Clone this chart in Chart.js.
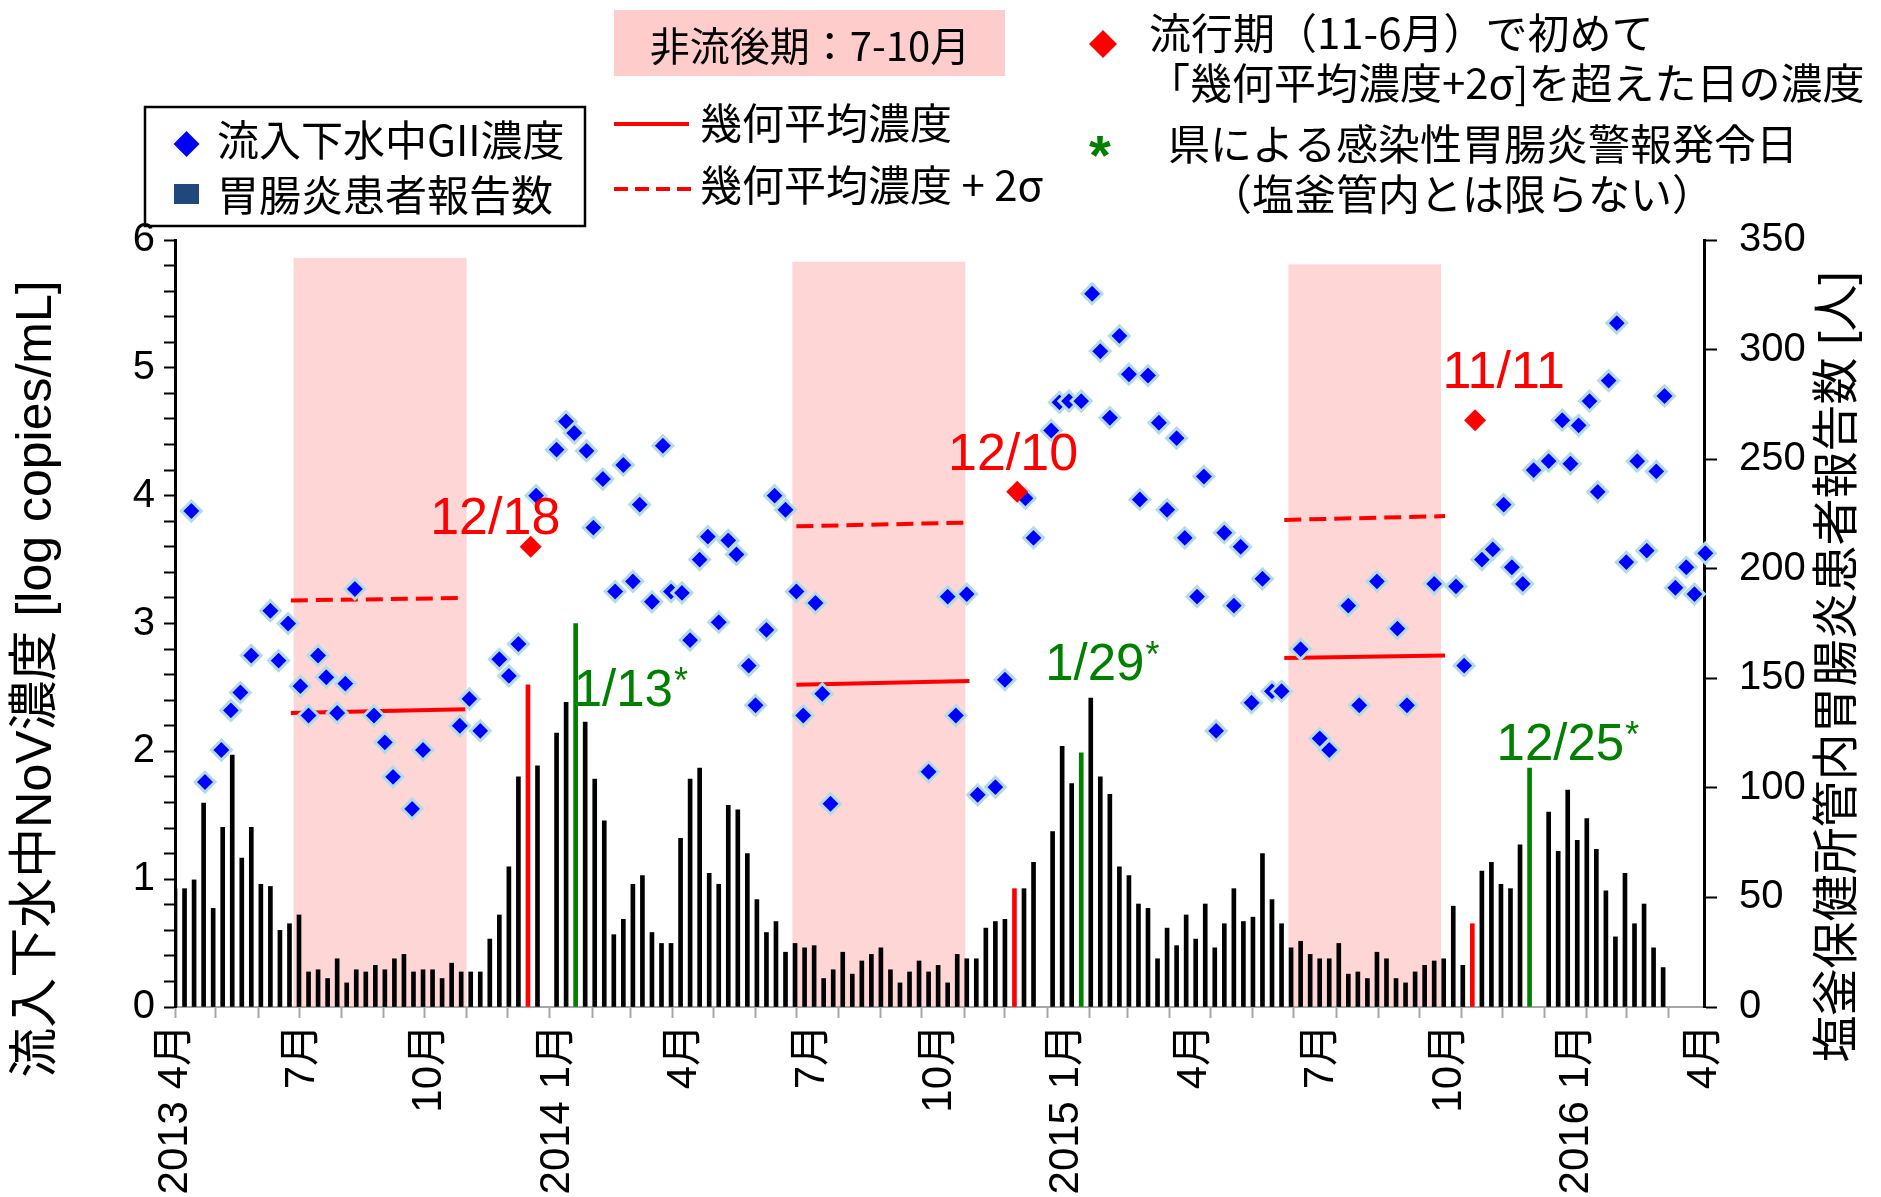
<!DOCTYPE html>
<html><head><meta charset="utf-8">
<script src="https://cdn.jsdelivr.net/npm/chart.js@4.4.1/dist/chart.umd.min.js"></script>
<style>html,body{margin:0;padding:0;background:#fff;}canvas{display:block;}</style>
</head><body>
<canvas id="c" width="1881" height="1197"></canvas>
<script>
// ===== DATA =====
// x values are days counted from 2013-04-01; bars are weekly (week i starts on day 7*i)
const startDate = '2013-04-01';
const weeklyPatients = [
  54, 54, 58, 93, 45, 82, 115, 68, 82, 56,
  55, 35, 38, 42, 16, 17, 13, 22, 11, 17,
  16, 19, 17, 22, 24, 16, 17, 17, 13, 20,
  16, 16, 16, 31, 42, 64, 105, 147, 110, null,
  125, 139, 175, 130, 104, 85, 33, 40, 56, 60,
  34, 29, 29, 77, 104, 109, 61, 56, 92, 90,
  70, 49, 34, 39, 25, 29, 27, 28, 13, 17,
  25, 15, 21, 24, 27, 17, 11, 16, 21, 16,
  19, 11, 24, 22, 22, 36, 39, 40, 54, 54,
  66, null, 80, 119, 102, 116, 141, 105, 97, 64,
  60, 47, 45, 22, 36, 28, 42, 31, 47, 27,
  38, 54, 39, 41, 70, 49, 38, 27, 30, 24,
  22, 22, 29, 15, 16, 13, 25, 22, 13, 11,
  16, 19, 21, 22, 46, 19, 38, 62, 66, 56,
  54, 74, 109, null, 89, 71, 99, 76, 86, 72,
  53, 32, 61, 38, 47, 27, 18
];
const redWeeks = [37, 88, 136];
const greenWeeks = [42, 95, 142];

const gIIDay = [
  12, 22, 34, 41, 48, 56, 70, 76, 83, 92, 98, 105, 111, 119, 125, 132, 146, 154, 160, 174,
  182, 209, 216, 224, 238, 245, 252, 265,
  280, 287, 293, 302, 307, 314, 323, 329, 336, 341, 350, 358, 364, 372, 378, 385, 391, 399,
  406, 412, 421, 426, 434, 440, 448, 456, 461, 470, 475, 481,
  553, 567, 573, 581, 589, 602, 609, 624, 630, 643, 649, 656, 665, 673, 679, 686, 693, 700,
  708, 714, 722, 728, 735, 741, 750, 755, 764, 770, 777, 782, 790, 798, 805, 812, 826,
  840, 847, 861, 869, 882, 897, 904, 924, 940, 946, 959, 967, 975, 981, 989, 997, 1008, 1018,
  1024, 1030, 1038, 1044, 1052, 1058, 1065, 1073, 1080, 1087, 1093, 1101, 1109, 1115, 1123
];
const gIIConc = [
  3.88, 1.76, 2.01, 2.32, 2.46, 2.75, 3.10, 2.71, 3.00, 2.51, 2.28, 2.75, 2.58, 2.30, 2.53, 3.27, 2.28, 2.07, 1.80, 1.55,
  2.01, 2.20, 2.41, 2.16, 2.72, 2.59, 2.84, 4.00,
  4.36, 4.58, 4.49, 4.35, 3.75, 4.13, 3.25, 4.24, 3.33, 3.93, 3.17, 4.39, 3.25, 3.24, 2.87, 3.50, 3.68, 3.01,
  3.65, 3.54, 2.67, 2.36, 2.95, 4.00, 3.89, 3.25, 2.28, 3.16, 2.45, 1.59,
  1.84, 3.21, 2.28, 3.23, 1.66, 1.72, 2.56, 3.98, 3.67, 4.51, 4.73, 4.74, 4.74, 5.58, 5.13, 4.61, 5.25, 4.95,
  3.97, 4.94, 4.57, 3.89, 4.45, 3.67, 3.21, 4.15, 2.16, 3.71, 3.14, 3.60, 2.38, 3.35, 2.47, 2.47, 2.80,
  2.10, 2.01, 3.14, 2.36, 3.33, 2.96, 2.36, 3.31, 3.29, 2.67, 3.50, 3.58, 3.93, 3.44, 3.31, 4.20, 4.27, 4.59,
  4.25, 4.55, 4.74, 4.03, 4.90, 5.35, 3.48, 4.27, 3.57, 4.19, 4.78, 3.28, 3.44, 3.23, 3.55
];

const firstExceedDay = [261, 618, 954];
const firstExceedConc = [3.60, 4.03, 4.59];
const firstExceedLabels = ['12/18', '12/10', '11/11'];
const alertLabels = ['1/13', '1/29', '12/25'];

const offSeasonStart = [87, 453, 817];
const offSeasonEnd = [214, 580, 929];
const geoMeanStart = [85, 456, 814];
const geoMeanEnd = [213, 583, 932];
const geoMeanFrom = [2.30, 2.52, 2.73];
const geoMeanTo = [2.33, 2.55, 2.75];
const plus2SigmaFrom = [3.18, 3.76, 3.81];
const plus2SigmaTo = [3.20, 3.79, 3.84];

const quarterLabels = ['2013 4月', '7月', '10月', '2014 1月', '4月', '7月', '10月',
  '2015 1月', '4月', '7月', '10月', '2016 1月', '4月'];

// ===== LAYOUT (data units) =====
const shadeTop = [5.86, 5.83, 5.81];
const redLabelPos = [{x: 235, y: 3.70}, {x: 615, y: 4.20}, {x: 975, y: 4.84}];
const greenLabelPos = [{x: 329, y: 2.357}, {x: 675, y: 2.555}, {x: 1016.6, y: 1.93}];

// ===== BUILD =====
const DAY = 86400000;
const t0 = Date.UTC(2013, 3, 1);
const monthTicks = [];
for (let m = 0; m <= 36; m++) monthTicks.push(Math.round((Date.UTC(2013, 3 + m, 1) - t0) / DAY));

const FONT = '"Liberation Sans", "Noto Sans CJK JP", sans-serif';
const JFONT = '"Noto Sans CJK JP", sans-serif';
Chart.defaults.font.family = FONT;
Chart.defaults.color = '#000';

const datasets = [];
datasets.push({
  type: 'bar', label: '胃腸炎患者報告数', xAxisID: 'x', yAxisID: 'y2', order: 10,
  data: weeklyPatients.map((v, i) => ({x: i * 7, y: v})),
  backgroundColor: weeklyPatients.map((v, i) => redWeeks.includes(i) ? '#FF0000' : greenWeeks.includes(i) ? '#008000' : '#000000'),
  barThickness: 4, borderWidth: 0
});
for (let i = 0; i < geoMeanStart.length; i++) {
  datasets.push({
    type: 'line', xAxisID: 'x', yAxisID: 'y', order: 5,
    data: [{x: geoMeanStart[i], y: geoMeanFrom[i]}, {x: geoMeanEnd[i], y: geoMeanTo[i]}],
    borderColor: '#FF0000', borderWidth: 4, pointRadius: 0, fill: false, showLine: true
  });
  datasets.push({
    type: 'line', xAxisID: 'x', yAxisID: 'y', order: 5,
    data: [{x: geoMeanStart[i], y: plus2SigmaFrom[i]}, {x: geoMeanEnd[i], y: plus2SigmaTo[i]}],
    borderColor: '#FF0000', borderWidth: 4, borderDash: [17, 8], pointRadius: 0, fill: false, showLine: true
  });
}
datasets.push({
  type: 'scatter', label: '流入下水中GII濃度', xAxisID: 'x', yAxisID: 'y', order: 2, clip: false,
  data: gIIDay.map((d, i) => ({x: d, y: gIIConc[i]})),
  pointStyle: 'rectRot', pointRadius: 10, backgroundColor: '#0000FF',
  borderColor: '#B3DCE8', borderWidth: 3, showLine: false
});
datasets.push({
  type: 'scatter', xAxisID: 'x', yAxisID: 'y', order: 1, clip: false,
  data: firstExceedDay.map((d, i) => ({x: d, y: firstExceedConc[i]})),
  pointStyle: 'rectRot', pointRadius: 11, backgroundColor: '#FF0000', borderWidth: 0, showLine: false
});

function diamond(ctx, x, y, r, color) {
  ctx.beginPath();
  ctx.moveTo(x - r, y); ctx.lineTo(x, y - r); ctx.lineTo(x + r, y); ctx.lineTo(x, y + r);
  ctx.closePath(); ctx.fillStyle = color; ctx.fill();
}
function rotText(ctx, text, cx, cy, font) {
  ctx.save(); ctx.translate(cx, cy); ctx.rotate(-Math.PI / 2);
  ctx.font = font; ctx.textAlign = 'center'; ctx.textBaseline = 'middle'; ctx.fillStyle = '#000';
  ctx.fillText(text, 0, 0); ctx.restore();
}

const overlay = {
  id: 'overlay',
  beforeDatasetsDraw(chart) {
    const {ctx, scales: {x, y}} = chart;
    ctx.save();
    ctx.fillStyle = '#FFD6D6';
    offSeasonStart.forEach((s, i) => {
      const x0 = x.getPixelForValue(s), x1 = x.getPixelForValue(offSeasonEnd[i]);
      const yt = y.getPixelForValue(shadeTop[i]), yb = y.getPixelForValue(0) - 1;
      ctx.fillRect(x0, yt, x1 - x0, yb - yt);
    });
    ctx.restore();
  },
  afterDatasetsDraw(chart) {
    const {ctx, scales: {x, y}} = chart;
    ctx.save();
    ctx.textBaseline = 'alphabetic';
    ctx.font = '52px ' + FONT; ctx.fillStyle = '#FF0000'; ctx.textAlign = 'center';
    firstExceedLabels.forEach((t, i) => {
      ctx.fillText(t, x.getPixelForValue(redLabelPos[i].x), y.getPixelForValue(redLabelPos[i].y));
    });
    ctx.fillStyle = '#008000';
    alertLabels.forEach((t, i) => {
      const px = x.getPixelForValue(greenLabelPos[i].x), py = y.getPixelForValue(greenLabelPos[i].y);
      ctx.font = '51px ' + FONT; ctx.textAlign = 'center';
      ctx.fillText(t, px, py);
      const w = ctx.measureText(t).width;
      ctx.font = '36px ' + FONT; ctx.textAlign = 'left';
      ctx.fillText('*', px + w / 2 + 1, py - 13);
    });
    ctx.restore();
  },
  afterDraw(chart) {
    const ctx = chart.ctx;
    ctx.save();
    // off-season box
    ctx.fillStyle = '#FFCCCC'; ctx.fillRect(614, 10, 391, 66);
    ctx.fillStyle = '#000'; ctx.font = '40px ' + JFONT; ctx.textAlign = 'center'; ctx.textBaseline = 'middle';
    ctx.fillText('非流後期：7-10月', 810, 46);
    // legend box
    ctx.lineWidth = 2.5; ctx.strokeStyle = '#000'; ctx.strokeRect(145, 107, 440, 119);
    diamond(ctx, 186.5, 144, 13, '#0000FF');
    ctx.fillStyle = '#1F497D'; ctx.fillRect(174, 184, 25, 20);
    ctx.fillStyle = '#000'; ctx.font = '42px ' + JFONT; ctx.textAlign = 'left';
    ctx.fillText('流入下水中GII濃度', 217, 140);
    ctx.fillText('胃腸炎患者報告数', 217, 195);
    // mean lines legend
    ctx.strokeStyle = '#FF0000'; ctx.lineWidth = 4;
    ctx.beginPath(); ctx.moveTo(614, 124); ctx.lineTo(689, 124); ctx.stroke();
    ctx.setLineDash([14, 7]);
    ctx.beginPath(); ctx.moveTo(614, 189); ctx.lineTo(692, 189); ctx.stroke();
    ctx.setLineDash([]);
    ctx.fillStyle = '#000';
    ctx.fillText('幾何平均濃度', 700, 123);
    ctx.fillText('幾何平均濃度 + 2σ', 700, 185);
    // red diamond note
    diamond(ctx, 1103, 44, 14, '#FF0000');
    ctx.fillStyle = '#000';
    ctx.fillText('流行期（11-6月）で初めて', 1149, 33);
    ctx.fillText('「幾何平均濃度+2σ]を超えた日の濃度', 1148, 83);
    // green alert note
    ctx.fillStyle = '#008000'; ctx.font = 'bold 56px ' + FONT; ctx.textAlign = 'center'; ctx.textBaseline = 'alphabetic';
    ctx.fillText('*', 1100, 174);
    ctx.fillStyle = '#000'; ctx.font = '42px ' + JFONT; ctx.textAlign = 'left'; ctx.textBaseline = 'middle';
    ctx.fillText('県による感染性胃腸炎警報発令日', 1168, 144);
    ctx.fillText('（塩釜管内とは限らない）', 1210, 194);
    ctx.restore();
    // axis titles
    rotText(ctx, '流入下水中NoV濃度 [log copies/mL]', 37, 679, '50px ' + FONT);
    rotText(ctx, '塩釜保健所管内胃腸炎患者報告数 [人]', 1839, 667, '47px ' + FONT);
  }
};

new Chart(document.getElementById('c'), {
  type: 'scatter',
  data: {datasets},
  options: {
    responsive: false, animation: false, devicePixelRatio: 1,
    layout: {padding: {top: 240, left: 0, right: 0, bottom: 0}},
    plugins: {legend: {display: false}, tooltip: {enabled: false}},
    scales: {
      x: {
        type: 'linear', position: 'bottom', min: 0, max: 1122, offset: false, weight: 0,
        grid: {offset: false, drawOnChartArea: false, drawTicks: true, tickLength: 11, tickWidth: 2, tickColor: '#A6A6A6'},
        border: {display: true, color: '#A6A6A6', width: 2},
        ticks: {display: false},
        afterBuildTicks: s => { s.ticks = monthTicks.map(v => ({value: v})); },
        afterFit: s => { s.height = 12; }
      },
      xLab: {
        type: 'linear', position: 'bottom', min: 0, max: 12, offset: false, weight: 1,
        grid: {display: false, drawTicks: false}, border: {display: false},
        ticks: {stepSize: 1, autoSkip: false, maxRotation: 90, minRotation: 90, padding: 5,
          font: {size: 42}, color: '#000', callback: v => quarterLabels[Math.round(v)] ?? ''},
        afterFit: s => { s.height = 178; }
      },
      y: {
        type: 'linear', position: 'left', min: 0, max: 6,
        grid: {drawOnChartArea: false, drawTicks: true, tickLength: 11, tickWidth: 2, tickColor: '#000'},
        border: {display: true, color: '#000', width: 3},
        ticks: {stepSize: 0.2, autoSkip: false, padding: 9, font: {size: 40}, color: '#000',
          callback: v => Math.abs(v - Math.round(v)) < 1e-6 ? String(Math.round(v)) : ''},
        afterFit: s => { s.width = 175; }
      },
      y2: {
        type: 'linear', position: 'right', min: 0, max: 350,
        grid: {drawOnChartArea: false, drawTicks: true, tickLength: 13, tickWidth: 2, tickColor: '#000'},
        border: {display: true, color: '#000', width: 3},
        ticks: {stepSize: 50, autoSkip: false, padding: 22, font: {size: 40}, color: '#000'},
        afterFit: s => { s.width = 177; }
      }
    }
  },
  plugins: [overlay]
});
</script>
</body></html>
